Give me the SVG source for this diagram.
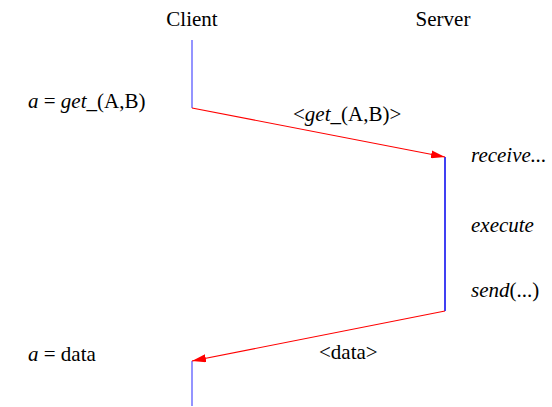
<svg xmlns="http://www.w3.org/2000/svg" width="552" height="407" viewBox="0 0 552 407" font-family="'Liberation Serif', 'Times New Roman', serif" font-size="21">
  <style>
    text, tspan { font-family: "Liberation Serif", "Times New Roman", serif; font-size: 21px; fill: #000; }
    .it { font-style: italic; }
    .life-c { stroke: #7070ff; stroke-width: 1.5; fill: none; }
    .life-s { stroke: #0000ee; stroke-width: 1.5; fill: none; }
    .msg { stroke: #ff0000; stroke-width: 1.2; fill: none; marker-end: url(#arrow); }
  </style>
  <defs>
    <marker id="arrow" viewBox="0 0 14 8" refX="14" refY="4" markerWidth="14" markerHeight="8" markerUnits="userSpaceOnUse" orient="auto">
      <path d="M0,0 L14,4 L0,8 Z" fill="#ff0000"/>
    </marker>
  </defs>
  <rect width="552" height="407" fill="#fff"/>

  <g id="client">
    <text x="192" y="26" text-anchor="middle">Client</text>
    <line class="life-c" x1="192" y1="40" x2="192" y2="108"/>
    <line class="life-c" x1="192" y1="361" x2="192" y2="406"/>
    <text x="28" y="108"><tspan class="it">a</tspan> = <tspan class="it">get</tspan>_(A,B)</text>
    <text x="28" y="361"><tspan class="it">a</tspan> = data</text>
  </g>

  <g id="server">
    <text x="443" y="26" text-anchor="middle">Server</text>
    <line class="life-s" x1="445" y1="157" x2="445" y2="311"/>
    <text class="it" x="471" y="162">receive...</text>
    <text class="it" x="471" y="232">execute</text>
    <text x="471" y="297"><tspan class="it">send</tspan>(...)</text>
  </g>

  <g id="connectors">
    <line class="msg" x1="192" y1="108" x2="445" y2="157"/>
    <line class="msg" x1="445" y1="311" x2="192" y2="361"/>
    <text x="293" y="121">&lt;<tspan class="it">get</tspan>_(A,B)&gt;</text>
    <text x="319" y="359">&lt;data&gt;</text>
  </g>
</svg>
